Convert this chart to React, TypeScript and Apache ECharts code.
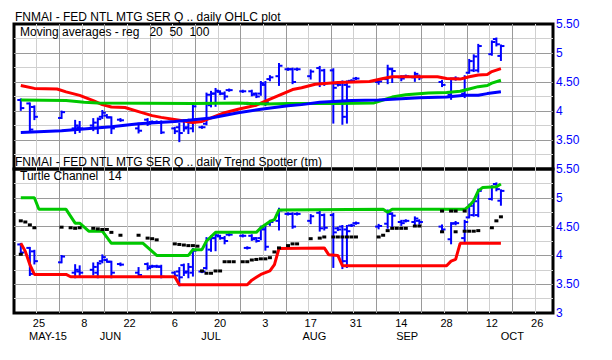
import React, { useEffect, useRef } from "react";
import * as echarts from "echarts";

// ---- data (x = weekday index counted from Mon 18 May 2015) ----
// [day, open, high, low, close]
const ohlc: number[][] = [
  [1, 4.19, 4.2, 4.02, 4.05], [3, 4.13, 4.13, 3.66, 3.68], [4, 4.07, 4.08, 3.86, 3.9],
  [10, 3.88, 3.99, 3.88, 3.98], [13, 3.7, 3.83, 3.62, 3.75], [14, 3.72, 3.81, 3.64, 3.7],
  [17, 3.75, 3.86, 3.67, 3.8], [18, 3.7, 3.87, 3.62, 3.86], [19, 3.9, 4.0, 3.88, 3.97],
  [20, 3.92, 3.93, 3.89, 3.89], [21, 3.89, 3.89, 3.62, 3.7], [23, 3.85, 3.86, 3.83, 3.84],
  [27, 3.7, 3.78, 3.63, 3.66], [29, 3.85, 3.86, 3.76, 3.78], [30, 3.81, 3.82, 3.8, 3.81],
  [31, 3.81, 3.82, 3.8, 3.81], [32, 3.8, 3.82, 3.62, 3.63], [35, 3.7, 3.71, 3.62, 3.65],
  [36, 3.72, 3.78, 3.48, 3.62], [37, 3.83, 3.84, 3.66, 3.7], [38, 3.72, 3.85, 3.62, 3.8],
  [39, 3.7, 4.11, 3.65, 4.08], [41, 3.72, 3.73, 3.71, 3.72], [42, 3.78, 4.3, 3.77, 4.28],
  [43, 4.1, 4.33, 4.08, 4.3], [44, 4.3, 4.38, 4.09, 4.35], [45, 4.33, 4.34, 4.29, 4.3],
  [46, 4.3, 4.32, 4.21, 4.25], [47, 4.36, 4.37, 4.35, 4.36], [50, 4.34, 4.35, 4.33, 4.34],
  [51, 4.13, 4.14, 4.12, 4.13], [52, 4.34, 4.35, 4.27, 4.28], [53, 4.3, 4.3, 4.24, 4.25],
  [54, 4.3, 4.5, 4.28, 4.48], [55, 4.45, 4.5, 4.1, 4.15], [56, 4.55, 4.6, 4.53, 4.58],
  [58, 4.6, 4.81, 4.45, 4.78], [60, 4.72, 4.73, 4.71, 4.72], [61, 4.72, 4.73, 4.48, 4.5],
  [62, 4.72, 4.73, 4.71, 4.72], [65, 4.6, 4.7, 4.56, 4.68], [67, 4.74, 4.76, 4.43, 4.47],
  [68, 4.7, 4.71, 4.45, 4.48], [70, 4.7, 4.72, 3.8, 4.4], [71, 4.47, 4.48, 4.44, 4.45],
  [72, 4.5, 4.51, 3.78, 3.9], [73, 4.45, 4.51, 3.8, 4.42], [74, 4.52, 4.53, 4.51, 4.52],
  [75, 4.56, 4.57, 4.55, 4.56], [80, 4.5, 4.53, 4.47, 4.51], [82, 4.55, 4.78, 4.48, 4.73],
  [83, 4.72, 4.73, 4.5, 4.69], [85, 4.58, 4.6, 4.53, 4.56], [86, 4.6, 4.61, 4.59, 4.6],
  [88, 4.58, 4.66, 4.52, 4.64], [89, 4.6, 4.61, 4.55, 4.58], [94, 4.5, 4.52, 4.43, 4.45],
  [96, 4.28, 4.56, 4.21, 4.55], [97, 4.56, 4.58, 4.54, 4.56], [99, 4.3, 4.6, 4.24, 4.58],
  [100, 4.66, 4.88, 4.66, 4.86], [101, 4.7, 4.96, 4.69, 4.94], [102, 4.7, 5.14, 4.68, 5.12],
  [105, 4.98, 5.2, 4.97, 5.19], [106, 5.24, 5.25, 5.13, 5.15], [107, 4.95, 5.13, 4.88, 5.12],
];

const trendDots: number[][] = [
  [1, 4.6], [1, 4.02], [2, 4.58], [3, 4.53], [4, 4.48], [10, 4.49], [12, 4.48], [13, 4.47],
  [14, 4.48], [17, 4.47], [18, 4.46], [19, 4.45], [20, 4.45], [21, 4.4], [23, 4.35], [27, 4.35],
  [29, 4.3], [30, 4.29], [31, 4.27], [35, 4.2], [36, 4.19], [37, 4.18], [38, 4.17], [39, 4.17],
  [40, 4.16], [41, 3.73], [42, 3.69], [43, 3.69], [44, 3.73], [45, 3.73], [46, 3.89], [47, 3.89],
  [48, 3.89], [50, 3.89], [51, 3.89], [52, 3.92], [53, 3.93], [54, 3.94], [55, 3.94], [56, 3.96],
  [57, 4.06], [58, 4.13], [60, 4.17], [61, 4.2], [62, 4.2], [65, 4.29], [67, 4.3], [68, 4.32],
  [70, 4.32], [71, 4.32], [72, 4.32], [73, 4.32], [74, 4.32], [75, 4.32], [80, 4.32], [81, 4.35],
  [82, 4.43], [83, 4.47], [84, 4.47], [85, 4.47], [86, 4.47], [88, 4.51], [89, 4.51],
  [94, 4.41], [94, 4.77], [96, 4.77], [97, 4.41], [97, 4.77], [99, 4.42], [99, 4.77],
  [100, 4.42], [101, 4.42], [102, 4.43], [105, 4.48], [106, 4.6], [107, 4.67],
];

const ma20: number[][] = [
  [1, 4.44], [4, 4.39], [9, 4.38], [11, 4.33], [14, 4.27], [17, 4.18], [19, 4.11], [21, 4.07],
  [24, 4.06], [27, 3.99], [30, 3.92], [32, 3.89], [36, 3.84], [39, 3.8], [41, 3.82], [43, 3.88],
  [46, 3.97], [49, 4.03], [53, 4.1], [55, 4.17], [58, 4.27], [61, 4.37], [63, 4.4], [66, 4.46],
  [71, 4.49], [78, 4.51], [81, 4.56], [83, 4.59], [93, 4.59], [95, 4.56], [98, 4.55], [100, 4.59],
  [102, 4.62], [104, 4.63], [105, 4.68], [107, 4.73],
];
const ma50: number[][] = [
  [1, 4.19], [11, 4.18], [15, 4.15], [18, 4.14], [39, 4.13], [49, 4.14], [55, 4.12], [60, 4.13],
  [71, 4.13], [79, 4.14], [81, 4.19], [83, 4.24], [86, 4.28], [91, 4.31], [95, 4.32], [98, 4.34],
  [100, 4.38], [102, 4.42], [104, 4.44], [105, 4.48], [107, 4.53],
];
const ma100: number[][] = [
  [1, 3.63], [10, 3.66], [21, 3.73], [27, 3.78], [35, 3.82], [38, 3.84], [43, 3.88], [49, 3.97],
  [54, 4.03], [60, 4.09], [63, 4.11], [67, 4.15], [74, 4.18], [80, 4.19], [89, 4.23], [95, 4.24],
  [99, 4.27], [102, 4.27], [104, 4.3], [107, 4.33],
];

const channelHigh: number[][] = [
  [1, 5.0], [4, 5.0], [5, 4.8], [11, 4.8], [13, 4.56], [14, 4.56], [16, 4.42], [19, 4.42],
  [21, 4.21], [28, 4.21], [31, 4.0], [38, 4.0], [39, 4.1], [41, 4.1], [42, 4.25], [44, 4.4],
  [53, 4.4], [54, 4.48], [56, 4.59], [57, 4.62], [58, 4.79], [81, 4.8], [82, 4.75], [83, 4.8],
  [99, 4.8], [100, 4.86], [101, 4.95], [102, 5.12], [103, 5.18], [106, 5.19], [107, 5.24],
];
const channelLow: number[][] = [
  [1, 4.21], [2, 4.07], [3, 3.84], [4, 3.67], [11, 3.67], [12, 3.63], [35, 3.63], [36, 3.49],
  [51, 3.49], [52, 3.57], [53, 3.62], [54, 3.67], [56, 3.73], [57, 3.84], [58, 4.12], [68, 4.13],
  [69, 4.01], [71, 4.0], [72, 3.82], [95, 3.82], [96, 3.9], [97, 3.93], [98, 4.21], [107, 4.21],
];

const weekLabels = ["25", "8", "22", "6", "20", "3", "17", "31", "14", "28", "12", "26"];
const weekLabelDays = [5, 15, 25, 35, 45, 55, 65, 75, 85, 95, 105, 115];
const monthLabels = ["MAY-15", "JUN", "JUL", "AUG", "SEP", "OCT"];
const monthLabelPos = [7.5, 21.3, 43.5, 66.3, 86.8, 110];

const titleTop = "FNMAI - FED NTL MTG SER Q .. daily OHLC plot";
const subTop = "Moving averages - reg   20  50  100";
const titleBottom = "FNMAI - FED NTL MTG SER Q .. daily Trend Spotter (tm)";
const subBottom = "Turtle Channel   14";

const DAY_MAX = 119;
const PRICE_MIN = 3;
const PRICE_MAX = 5.5;
const PRICE_STEP = 0.25;

// ---- styles ----
const FONT = '"Liberation Sans", Arial, sans-serif';
const BLUE = "#0000ff";
const RED = "#ff0000";
const GREEN = "#00c800";
const GRID_DARK = "#9a9a9a";
const GRID_LIGHT = "#d0d0d0";

const slot = (d: number) => d + 0.5;

function priceLabel(v: number): string {
  if (Math.abs(v * 2 - Math.round(v * 2)) > 1e-6) return "";
  const r = Math.round(v * 100) / 100;
  return Number.isInteger(r) ? String(r) : r.toFixed(2);
}

function lookup(values: number[], labels: string[], v: number): string {
  for (let i = 0; i < values.length; i++) {
    if (Math.abs(values[i] - v) < 1e-6) return labels[i];
  }
  return "";
}

function ohlcRender(params: any, api: any) {
  const x = api.value(0);
  const o = api.coord([x, api.value(1)]);
  const h = api.coord([x, api.value(2)]);
  const l = api.coord([x, api.value(3)]);
  const c = api.coord([x, api.value(4)]);
  const t = 3.5;
  const style = { stroke: BLUE, lineWidth: 2, fill: null };
  return {
    type: "group",
    children: [
      { type: "line", shape: { x1: h[0], y1: h[1] - 1, x2: l[0], y2: l[1] + 1 }, style },
      { type: "line", shape: { x1: o[0] - t, y1: o[1], x2: o[0], y2: o[1] }, style },
      { type: "line", shape: { x1: c[0], y1: c[1], x2: c[0] + t, y2: c[1] }, style },
    ],
  };
}

export default function App() {
  const ref = useRef<HTMLDivElement>(null);

  useEffect(() => {
    if (!ref.current) return;
    const chart = echarts.init(ref.current, null, { renderer: "svg" });

    const xSplit = (gridIndex: number) => ({
      type: "value",
      gridIndex,
      min: 0,
      max: DAY_MAX,
      interval: 5,
      axisLine: { show: false },
      axisTick: { show: false },
      axisLabel: { show: false },
      splitLine: {
        show: true,
        showMinLine: false,
        showMaxLine: false,
        lineStyle: { color: [GRID_LIGHT, GRID_DARK], width: 1 },
      },
    });

    const yPrice = (gridIndex: number, hideMin: boolean) => ({
      type: "value",
      gridIndex,
      min: PRICE_MIN,
      max: PRICE_MAX,
      interval: PRICE_STEP,
      position: "right",
      axisLine: { show: false },
      axisTick: { show: false },
      axisLabel: {
        color: BLUE,
        fontSize: 12,
        fontFamily: FONT,
        margin: 3,
        showMinLabel: true,
        showMaxLabel: true,
        formatter: (v: number) => (hideMin && v < PRICE_MIN + 0.01 ? "" : priceLabel(v)),
      },
      splitLine: {
        show: true,
        showMinLine: false,
        showMaxLine: false,
        lineStyle: { color: [GRID_LIGHT, GRID_DARK], width: 1 },
      },
    });

    const weekPos = weekLabelDays.map(slot);

    const bars = ohlc.map((r) => [slot(r[0]), r[1], r[2], r[3], r[4]]);
    const toLine = (arr: number[][]) => arr.map((p) => [slot(p[0]), p[1]]);

    const lineSeries = (data: number[][], color: string, xi: number, yi: number) => ({
      type: "line",
      xAxisIndex: xi,
      yAxisIndex: yi,
      data: toLine(data),
      symbol: "none",
      showSymbol: false,
      silent: true,
      z: 3,
      lineStyle: { color, width: 3 },
    });

    const option: any = {
      animation: false,
      backgroundColor: "#ffffff",
      grid: [
        {
          left: 14, right: 59, top: 24, height: 145,
          show: true, borderColor: "#000", borderWidth: 3, backgroundColor: "transparent",
          outerBoundsMode: "none",
        },
        {
          left: 14, right: 59, top: 169, height: 144,
          show: true, borderColor: "#000", borderWidth: 3, backgroundColor: "transparent",
          outerBoundsMode: "none",
        },
      ],
      xAxis: [
        xSplit(0),
        xSplit(1),
        {
          type: "value", gridIndex: 1, min: 0, max: DAY_MAX, position: "bottom",
          axisLine: { show: false }, axisTick: { show: false }, splitLine: { show: false },
          axisLabel: {
            customValues: weekPos,
            formatter: (v: number) => lookup(weekPos, weekLabels, v),
            color: "#000", fontSize: 11, lineHeight: 11, fontFamily: FONT, margin: 4,
          },
        },
        {
          type: "value", gridIndex: 1, min: 0, max: DAY_MAX, position: "bottom",
          axisLine: { show: false }, axisTick: { show: false }, splitLine: { show: false },
          axisLabel: {
            customValues: monthLabelPos,
            formatter: (v: number) => lookup(monthLabelPos, monthLabels, v),
            color: "#000", fontSize: 11, lineHeight: 11, fontFamily: FONT, margin: 17,
          },
        },
      ],
      yAxis: [yPrice(0, true), yPrice(1, false)],
      graphic: [
        { type: "text", x: 15, y: 17, z: 10, style: { text: titleTop, fontSize: 12, fontFamily: FONT, fill: "#000", verticalAlign: "middle" } },
        { type: "text", x: 20, y: 32, z: 10, style: { text: subTop, fontSize: 12, fontFamily: FONT, fill: "#000", verticalAlign: "middle" } },
        { type: "text", x: 15, y: 162, z: 10, style: { text: titleBottom, fontSize: 12, fontFamily: FONT, fill: "#000", verticalAlign: "middle" } },
        { type: "text", x: 20, y: 176, z: 10, style: { text: subBottom, fontSize: 12, fontFamily: FONT, fill: "#000", verticalAlign: "middle" } },
      ],
      series: [
        {
          type: "custom", xAxisIndex: 0, yAxisIndex: 0, data: bars,
          encode: { x: 0, y: [1, 2, 3, 4] }, renderItem: ohlcRender, silent: true, z: 2,
        },
        lineSeries(ma20, RED, 0, 0),
        lineSeries(ma50, GREEN, 0, 0),
        lineSeries(ma100, BLUE, 0, 0),
        {
          type: "custom", xAxisIndex: 1, yAxisIndex: 1, data: bars,
          encode: { x: 0, y: [1, 2, 3, 4] }, renderItem: ohlcRender, silent: true, z: 2,
        },
        lineSeries(channelHigh, GREEN, 1, 1),
        lineSeries(channelLow, RED, 1, 1),
        {
          type: "scatter", xAxisIndex: 1, yAxisIndex: 1,
          data: toLine(trendDots), symbol: "rect", symbolSize: [4, 3], silent: true, z: 4,
          itemStyle: { color: "#000", opacity: 1 },
        },
      ],
    };

    chart.setOption(option);
    return () => chart.dispose();
  }, []);

  return (
    <div
      ref={ref}
      style={{ position: "absolute", left: 0, top: 0, width: 612, height: 360, background: "#fff" }}
    />
  );
}
